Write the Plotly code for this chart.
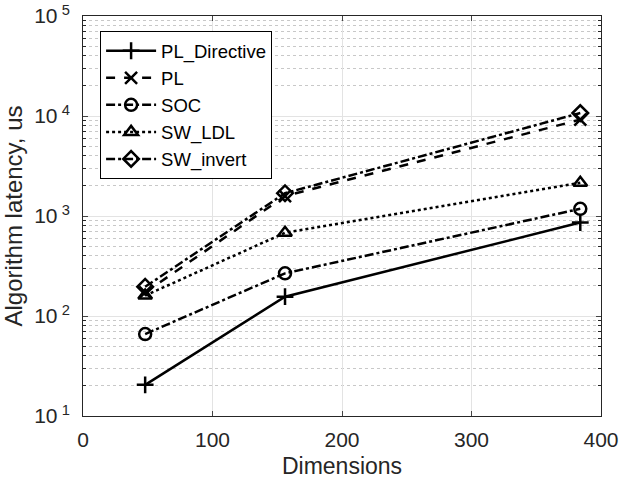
import plotly.graph_objects as go

dimensions = [48, 156, 384]
pl_directive = [20.5, 156, 860]
pl = [172, 1580, 9200]
soc = [66, 267, 1180]
sw_ldl = [160, 680, 2150]
sw_invert = [196, 1690, 10700]

series = [
    ("PL_Directive", pl_directive, "solid", "cross-thin-open"),
    ("PL", pl, "dash", "x-thin-open"),
    ("SOC", soc, "dashdot", "circle-open"),
    ("SW_LDL", sw_ldl, "dot", "triangle-up-open"),
    ("SW_invert", sw_invert, "dashdot", "diamond-open"),
]

y_tickvals = [10, 100, 1000, 10000, 100000]
y_ticktext = ["10<sup> 1</sup>", "10<sup> 2</sup>", "10<sup> 3</sup>", "10<sup> 4</sup>", "10<sup> 5</sup>"]
y_minor_vals = [m * d for d in [10, 100, 1000, 10000] for m in range(2, 10)]
x_tickvals = [0, 100, 200, 300, 400]

fig = go.Figure()
for name, vals, dash, sym in series:
    fig.add_trace(go.Scatter(
        x=dimensions, y=vals, name=name, mode="lines+markers",
        line=dict(color="black", width=2.5, dash=dash),
        marker=dict(symbol=sym, size=12, color="black",
                    line=dict(color="black", width=2.5)),
    ))

font = "Liberation Sans, Arial, sans-serif"
fig.update_layout(
    width=619, height=479,
    margin=dict(l=83, r=18, t=16, b=63),
    paper_bgcolor="white", plot_bgcolor="white",
    font=dict(family=font, size=21, color="#262626"),
    showlegend=True,
    legend=dict(x=0.033, y=0.962, xanchor="left", yanchor="top",
                bordercolor="black", borderwidth=1, bgcolor="white",
                font=dict(size=18.5, color="black"), tracegroupgap=0,
                itemwidth=50),
    xaxis=dict(range=[0, 400], tickvals=x_tickvals, ticks="inside", ticklen=5,
               showline=True, linecolor="#262626", linewidth=1, mirror="ticks",
               showgrid=True, gridcolor="#e3e3e3", gridwidth=1, zeroline=False,
               automargin=False, ticklabeloverflow="allow", ticklabelstandoff=5,
               title=dict(text="Dimensions", standoff=8, font=dict(size=23)),
               tickfont=dict(size=21)),
    yaxis=dict(type="log", range=[1, 5], tickvals=y_tickvals, ticktext=y_ticktext,
               ticks="inside", ticklen=5,
               showline=True, linecolor="#262626", linewidth=1, mirror="ticks",
               showgrid=True, gridcolor="#e3e3e3", gridwidth=1, zeroline=False,
               automargin=False, ticklabeloverflow="allow", ticklabelstandoff=8,
               minor=dict(tickvals=y_minor_vals, ticks="inside", ticklen=3,
                          tickcolor="#262626", showgrid=True, gridcolor="#c8c8c8",
                          griddash="dot", gridwidth=1),
               title=dict(text="Algorithm latency, us", standoff=15, font=dict(size=24)),
               tickfont=dict(size=21)),
)

# remove the browser's default 8px body margin so the figure fills the window
fig.write_html("out.html", config={"displayModeBar": False},
               post_script="document.body.style.margin='0';")
